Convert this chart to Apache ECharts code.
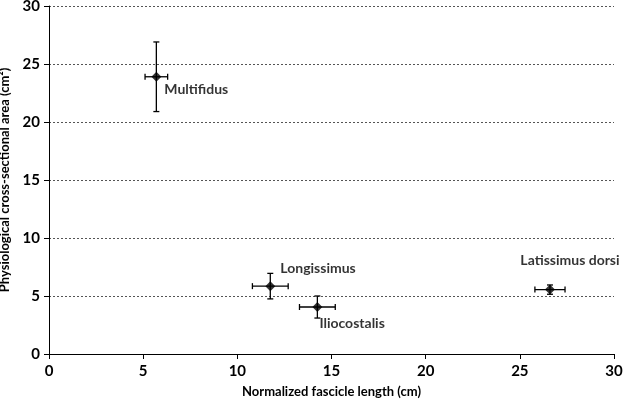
<!DOCTYPE html>
<html><head><meta charset="utf-8">
<script src="https://cdn.jsdelivr.net/npm/echarts@6/dist/echarts.min.js"></script>
<style>html,body{margin:0;padding:0;background:#fff}#c{width:625px;height:401px}</style>
</head><body><div id="c"></div>
<script>
var muscles = ['Multifidus', 'Longissimus', 'Iliocostalis', 'Latissimus dorsi'];
var fascicleLength = [5.7, 11.75, 14.25, 26.6];
var fascicleLengthErr = [0.6, 0.95, 0.95, 0.8];
var pcsa = [23.9, 5.85, 4.05, 5.55];
var pcsaErr = [3.0, 1.1, 0.95, 0.4];

// label placement (styling only)
var labelStyle = [
  {position: 'right', offset: [-2, 13]},
  {position: 'right', offset: [0, -18]},
  {position: 'right', offset: [-8, 16]},
  {position: 'top', offset: [20, -12]}
];

var font = 'Lato';
var points = muscles.map(function (m, i) {
  return {name: m, value: [fascicleLength[i], pcsa[i]],
    label: {show: true, formatter: m, position: labelStyle[i].position, offset: labelStyle[i].offset,
      color: '#000', fontFamily: font, fontWeight: 'bold', fontSize: 14}};
});
var errData = muscles.map(function (m, i) {
  return [fascicleLength[i], pcsa[i], fascicleLengthErr[i], pcsaErr[i]];
});

var chart = echarts.init(document.getElementById('c'));
chart.setOption({
  animation: false,
  grid: {left: 49, right: 11, top: 6, bottom: 47, containLabel: false, outerBoundsMode: 'none'},
  xAxis: {
    type: 'value', min: 0, max: 30, interval: 5,
    name: 'Normalized fascicle length (cm)', nameLocation: 'middle', nameGap: 31,
    nameTextStyle: {fontFamily: font, fontWeight: 'bold', fontSize: 13, color: '#000'},
    axisLine: {show: true, lineStyle: {color: '#000', width: 1}},
    axisTick: {show: true, length: 5, lineStyle: {color: '#000'}},
    axisLabel: {fontFamily: font, fontSize: 15, fontWeight: 'bold', color: '#000', margin: 10},
    splitLine: {show: false}
  },
  yAxis: {
    type: 'value', min: 0, max: 30, interval: 5,
    name: 'Physiological cross-sectional area (cm²)', nameLocation: 'middle', nameGap: 33,
    nameTextStyle: {fontFamily: font, fontWeight: 'bold', fontSize: 13, color: '#000'},
    axisLine: {show: true, lineStyle: {color: '#000', width: 1}},
    axisTick: {show: true, length: 5, lineStyle: {color: '#000'}},
    axisLabel: {fontFamily: font, fontSize: 15, fontWeight: 'bold', color: '#000', margin: 9},
    splitLine: {show: true, lineStyle: {color: '#555', type: [2, 2], width: 1}}
  },
  series: [
    {
      type: 'custom',
      data: errData,
      z: 3,
      renderItem: function (params, api) {
        var x = api.value(0), y = api.value(1), dx = api.value(2), dy = api.value(3);
        var c = api.coord([x, y]);
        var l = api.coord([x - dx, y]), r = api.coord([x + dx, y]);
        var t = api.coord([x, y + dy]), b = api.coord([x, y - dy]);
        var cap = 3;
        var st = {stroke: '#000', lineWidth: 1.3};
        return {type: 'group', children: [
          {type: 'line', shape: {x1: l[0], y1: c[1], x2: r[0], y2: c[1]}, style: st},
          {type: 'line', shape: {x1: l[0], y1: c[1] - cap, x2: l[0], y2: c[1] + cap}, style: st},
          {type: 'line', shape: {x1: r[0], y1: c[1] - cap, x2: r[0], y2: c[1] + cap}, style: st},
          {type: 'line', shape: {x1: c[0], y1: t[1], x2: c[0], y2: b[1]}, style: st},
          {type: 'line', shape: {x1: c[0] - cap, y1: t[1], x2: c[0] + cap, y2: t[1]}, style: st},
          {type: 'line', shape: {x1: c[0] - cap, y1: b[1], x2: c[0] + cap, y2: b[1]}, style: st}
        ]};
      }
    },
    {
      type: 'scatter',
      symbol: 'diamond',
      symbolSize: 10,
      z: 4,
      itemStyle: {color: '#000'},
      data: points
    }
  ]
});
</script></body></html>
